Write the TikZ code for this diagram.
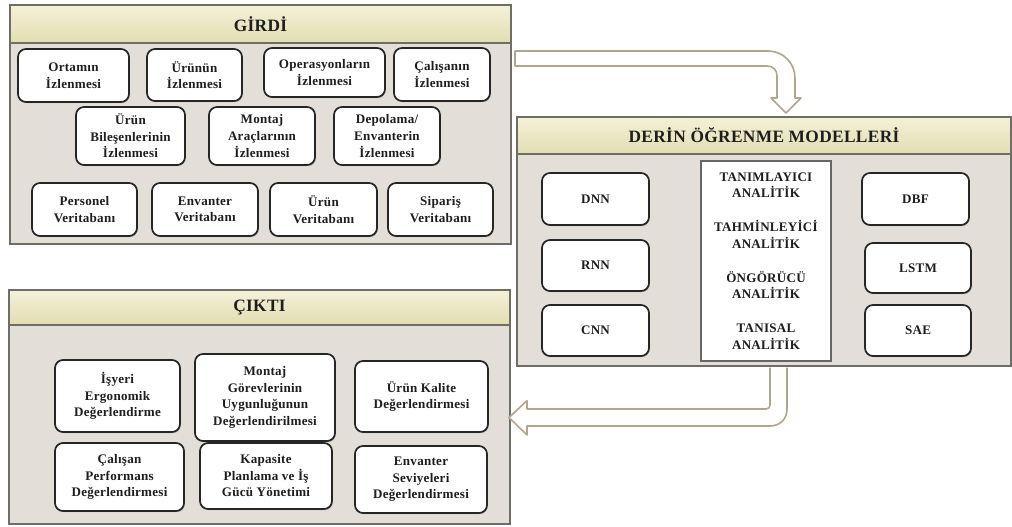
\documentclass[tikz,border=0pt]{standalone}
\usepackage{fontspec}
\setmainfont{Liberation Serif}[LetterSpace=2.0]
\usetikzlibrary{shadows}

\definecolor{panelfill}{HTML}{E3DFD8}
\definecolor{panelline}{HTML}{6E6D66}
\definecolor{headtop}{HTML}{F4F1D8}
\definecolor{headbot}{HTML}{E2DDB1}
\definecolor{arrowline}{HTML}{B3A48D}
\definecolor{inktext}{HTML}{1E1E1E}

\tikzset{
  panelbody/.style={draw=panelline, fill=panelfill, line width=0.9pt, inner sep=0pt},
  headbar/.style={draw=panelline, line width=0.9pt, top color=headtop, bottom color=headbot,
    inner sep=0pt, font=\fontsize{13pt}{15pt}\selectfont\bfseries, text=inktext},
  itembox/.style={draw=black!85, line width=1.3pt, fill=white, rounded corners=6pt,
    align=center, inner sep=0pt, text=inktext,
    font=\fontsize{9.8pt}{12.4pt}\selectfont\bfseries,
    drop shadow={shadow xshift=0.6pt, shadow yshift=-0.9pt, opacity=0.45}},
  analysisbox/.style={draw=black!60, line width=1.5pt, fill=white, align=center,
    inner sep=0pt, text=inktext, font=\fontsize{9.8pt}{12.4pt}\selectfont\bfseries},
  blockarrow/.style={draw=arrowline, line width=1.2pt, fill=white, line join=round},
}

% \placebox{style}{name}{x1}{y1}{x2}{y2}{text}, coordinates in pixels
\newcommand\placebox[7]{%
  \node[#1, minimum width={(#5-#3)*0.75pt}, minimum height={(#6-#4)*0.75pt}]
    (#2) at ({(#3+#5)/2},{(#4+#6)/2}) {#7};}

\begin{document}
\begin{tikzpicture}[x=0.75pt, y=-0.75pt]
\useasboundingbox (0,0) rectangle (1012,527);

% ---------- input panel ----------
\placebox{panelbody}{girdi}{10}{5}{511}{244}{}
\placebox{headbar}{girdihead}{10}{5}{511}{43}{GİRDİ}

\placebox{itembox}{in1}{18}{49}{129}{102}{Ortamın\\İzlenmesi}
\placebox{itembox}{in2}{147}{49}{242}{101}{Ürünün\\İzlenmesi}
\placebox{itembox}{in3}{264}{48}{385}{97}{Operasyonların\\İzlenmesi}
\placebox{itembox}{in4}{394}{48}{490}{101}{Çalışanın\\İzlenmesi}

\placebox{itembox}{in5}{76}{107}{185}{165}{Ürün\\Bileşenlerinin\\İzlenmesi}
\placebox{itembox}{in6}{209}{107}{315}{165}{Montaj\\Araçlarının\\İzlenmesi}
\placebox{itembox}{in7}{334}{107}{440}{165}{Depolama/\\Envanterin\\İzlenmesi}

\placebox{itembox}{in8}{32}{183}{137}{236}{Personel\\Veritabanı}
\placebox{itembox}{in9}{152}{183}{258}{236}{Envanter\\Veritabanı}
\placebox{itembox}{in10}{270}{183}{377}{236}{Ürün\\Veritabanı}
\placebox{itembox}{in11}{388}{183}{493}{236}{Sipariş\\Veritabanı}

% ---------- deep learning panel ----------
\placebox{panelbody}{derin}{517}{117}{1011}{366}{}
\placebox{headbar}{derinhead}{517}{117}{1011}{154}{DERİN ÖĞRENME MODELLERİ}

\placebox{itembox}{dnn}{542}{173}{649}{225}{DNN}
\placebox{itembox}{rnn}{542}{240}{649}{291}{RNN}
\placebox{itembox}{cnn}{542}{305}{649}{356}{CNN}

\placebox{analysisbox}{analiz}{701}{161}{831}{361}{%
  TANIMLAYICI\\ANALİTİK\\[13pt]TAHMİNLEYİCİ\\ANALİTİK\\[13pt]%
  ÖNGÖRÜCÜ\\ANALİTİK\\[13pt]TANISAL\\ANALİTİK}

\placebox{itembox}{dbf}{862}{173}{969}{225}{DBF}
\placebox{itembox}{lstm}{865}{243}{971}{293}{LSTM}
\placebox{itembox}{sae}{865}{305}{971}{356}{SAE}

% ---------- output panel ----------
\placebox{panelbody}{cikti}{9}{290}{510}{524}{}
\placebox{headbar}{ciktihead}{9}{290}{510}{325}{ÇIKTI}

\placebox{itembox}{out1}{55}{360}{180}{432}{İşyeri\\Ergonomik\\Değerlendirme}
\placebox{itembox}{out2}{195}{354}{335}{441}{Montaj\\Görevlerinin\\Uygunluğunun\\Değerlendirilmesi}
\placebox{itembox}{out3}{355}{361}{488}{432}{Ürün Kalite\\Değerlendirmesi}
\placebox{itembox}{out4}{55}{443}{184}{511}{Çalışan\\Performans\\Değerlendirmesi}
\placebox{itembox}{out5}{200}{443}{332}{509}{Kapasite\\Planlama ve İş\\Gücü Yönetimi}
\placebox{itembox}{out6}{355}{446}{487}{513}{Envanter\\Seviyeleri\\Değerlendirmesi}

% ---------- block arrows between the panels ----------
% input -> models
\draw[blockarrow] (515,51) -- (768,51) .. controls (783,51) and (795,63) .. (795,78)
  -- (795,98) -- (801,98) -- (786,113) -- (771,98) -- (777,98) -- (777,76)
  .. controls (777,70) and (773,66) .. (767,66) -- (515,66) -- cycle;

% models -> output
\fill[white] (770,367.5) -- (770,405) .. controls (770,407.5) and (768.5,409) .. (766,409)
  -- (527,409) -- (527,400.7) -- (509,417.5) -- (527,435) -- (527,426) -- (770,426)
  .. controls (780,426) and (787,419) .. (787,409) -- (787,367.5) -- cycle;
\draw[blockarrow, fill=none] (770,367.5) -- (770,405) .. controls (770,407.5) and (768.5,409) .. (766,409)
  -- (527,409) -- (527,400.7) -- (509,417.5) -- (527,435) -- (527,426) -- (770,426)
  .. controls (780,426) and (787,419) .. (787,409) -- (787,367.5);
\end{tikzpicture}
\end{document}
